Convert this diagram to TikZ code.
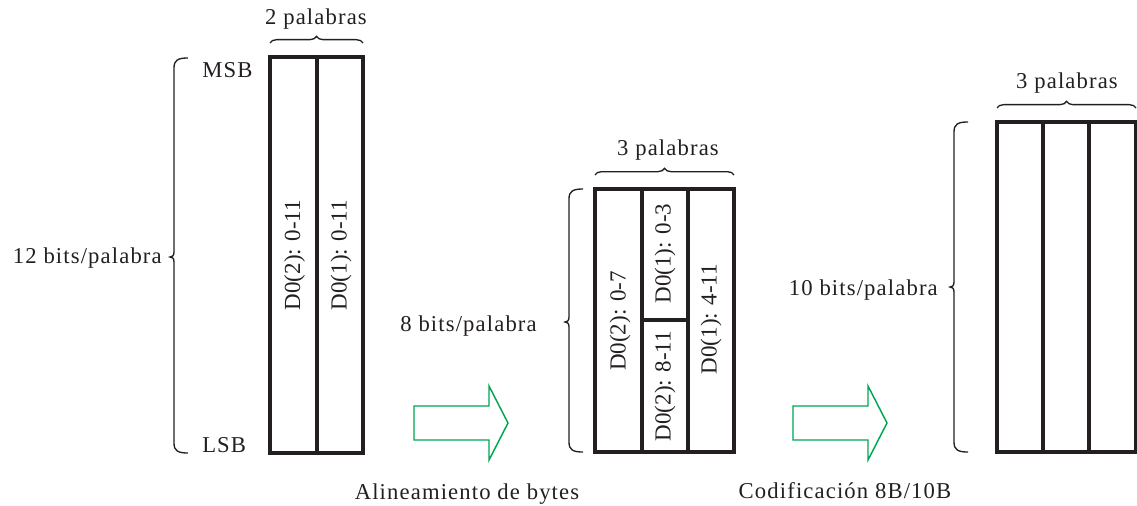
\documentclass[tikz,border=0pt]{standalone}
\usepackage{fontspec}
\setmainfont{Liberation Serif}
\usetikzlibrary{decorations.pathreplacing}
\definecolor{boxgray}{RGB}{35,31,32}
\definecolor{arrowgreen}{RGB}{0,166,81}

% side brace: #1 x of the ends, #2 top y, #3 bottom y, #4 y of the tip
\newcommand{\sidebrace}[4]{%
  \draw[bracestyle] (#1,#2) .. controls ({#1-10},#2) and ({#1-14},{#2+2}) .. ({#1-14},{#2+10})
    -- ({#1-14},{#4-5}) .. controls ({#1-14},{#4-1}) and ({#1-16},#4) .. ({#1-18},#4)
    .. controls ({#1-16},#4) and ({#1-14},{#4+1}) .. ({#1-14},{#4+5})
    -- ({#1-14},{#3-10}) .. controls ({#1-14},{#3-2}) and ({#1-10},#3) .. (#1,#3);%
}

\tikzset{
  wordbox/.style={draw=boxgray, line width=2.3pt},
  bracestyle/.style={draw=boxgray, line width=1pt},
  topbrace/.style={bracestyle, decorate, decoration={brace, amplitude=5pt}},
  lbl/.style={inner sep=0pt, text=boxgray, font=\fontsize{17}{20}\selectfont\addfontfeature{LetterSpace=5}},
  field/.style={inner sep=0pt, rotate=90, anchor=base, text=boxgray, font=\fontsize{17.25}{20}\selectfont},
  blockarrow/.style={draw=arrowgreen, line width=1.1pt}
}

\begin{document}
\begin{tikzpicture}[x=0.75pt, y=-0.75pt]
\useasboundingbox (0,0) rectangle (1137,506);

% 12 bit words
\draw[wordbox] (270,57) rectangle (363,453);
\draw[wordbox] (317,57) -- (317,453);
\node[field] (d2a) at (300,255) {D0(2): 0-11};
\node[field] (d1a) at (346.5,255) {D0(1): 0-11};
\draw[topbrace] (270,43) -- (363,43);
\node[lbl, anchor=base] (w2) at (316,25) {2 palabras};
\sidebrace{188}{58}{453}{257}
\node[lbl, anchor=base east] (b12) at (162,263) {12 bits/palabra};
\node[lbl, anchor=base west] (msb) at (202,78) {MSB};
\node[lbl, anchor=base west] (lsb) at (202,452) {LSB};

% 8 bit words
\draw[wordbox] (595,189) rectangle (734,452);
\draw[wordbox] (642,189) -- (642,452);
\draw[wordbox] (688,189) -- (688,452);
\draw[wordbox] (642,320) -- (688,320);
\node[field] (d2b) at (625.5,321) {D0(2): 0-7};
\node[field] (d1b) at (670.5,253.5) {D0(1): 0-3};
\node[field] (d2c) at (670.5,386) {D0(2): 8-11};
\node[field] (d1c) at (716.5,319) {D0(1): 4-11};
\draw[topbrace] (595,175) -- (734,175);
\node[lbl, anchor=base] (w3a) at (668,156) {3 palabras};
\sidebrace{583}{189}{452}{322}
\node[lbl, anchor=base east] (b8) at (537,331) {8 bits/palabra};

% 10 bit words
\draw[wordbox] (997,122) rectangle (1136,452);
\draw[wordbox] (1043,122) -- (1043,452);
\draw[wordbox] (1089,122) -- (1089,452);
\draw[topbrace] (997,108) -- (1136,108);
\node[lbl, anchor=base] (w3b) at (1067,88.5) {3 palabras};
\sidebrace{968}{122}{452}{287}
\node[lbl, anchor=base east] (b10) at (938,295) {10 bits/palabra};

% Green block arrows
\foreach \dx in {0,379} {
  \draw[blockarrow] ({414+\dx},406) -- ({489+\dx},406) -- ({489+\dx},386) -- ({508+\dx},423)
    -- ({489+\dx},460) -- ({489+\dx},440) -- ({414+\dx},440) -- cycle;
}
\node[lbl, anchor=base] (align) at (467,499) {Alineamiento de bytes};
\node[lbl, anchor=base] (coding) at (845,498) {Codificación 8B/10B};

\end{tikzpicture}
\end{document}
